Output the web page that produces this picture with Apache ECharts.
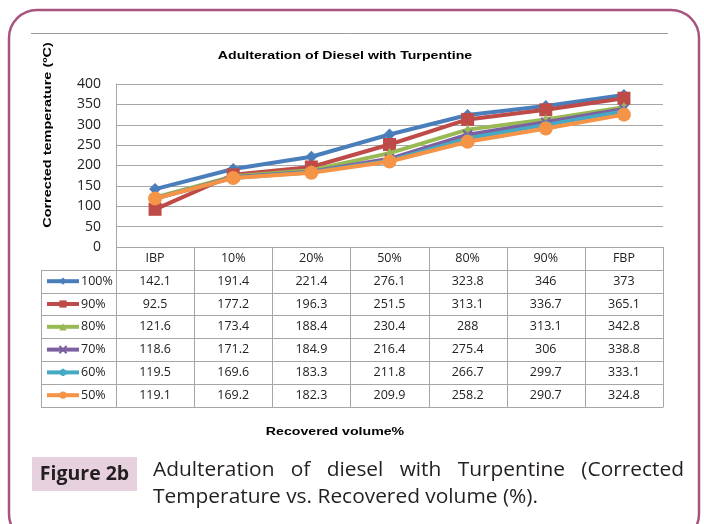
<!DOCTYPE html>
<html>
<head>
<meta charset="utf-8">
<script src="https://cdn.jsdelivr.net/npm/echarts@6/dist/echarts.min.js"></script>
<style>
html, body { margin: 0; padding: 0; background: #fff; }
#chart { width: 704px; height: 524px; }
</style>
</head>
<body>
<div id="chart"></div>
<script>
// data (the data table gives exact values)
var categories = ["IBP", "10%", "20%", "50%", "80%", "90%", "FBP"];
var seriesNames = ["100%", "90%", "80%", "70%", "60%", "50%"];
var s100 = [142.1, 191.4, 221.4, 276.1, 323.8, 346, 373];
var s90 = [92.5, 177.2, 196.3, 251.5, 313.1, 336.7, 365.1];
var s80 = [121.6, 173.4, 188.4, 230.4, 288, 313.1, 342.8];
var s70 = [118.6, 171.2, 184.9, 216.4, 275.4, 306, 338.8];
var s60 = [119.5, 169.6, 183.3, 211.8, 266.7, 299.7, 333.1];
var s50 = [119.1, 169.2, 182.3, 209.9, 258.2, 290.7, 324.8];
var seriesData = [s100, s90, s80, s70, s60, s50];
var yMin = 0, yMax = 400, yStep = 50;

var chartTitle = "Adulteration of Diesel with Turpentine";
var yTitle = "Corrected temperature (\u00BAC)";
var xTitle = "Recovered volume%";
var figLabel = "Figure 2b";
var captionLine1 = ["Adulteration", "of", "diesel", "with", "Turpentine", "(Corrected"];
var captionLine2 = "Temperature vs. Recovered volume (%).";

var colors = ["#4a7ebb", "#be4b48", "#98b954", "#7d60a0", "#46aac5", "#f59346"];
var symbols = [
  "diamond",
  "rect",
  "triangle",
  "path://M0,0L10,10M10,0L0,10",
  "path://M5,0L5,10M0,5L10,5M1.5,1.5L8.5,8.5M8.5,1.5L1.5,8.5",
  "circle"
];
var symbolSizes = [12, 13, 11, 9, 9, 14];

var gridLeft = 116, gridRight = 41, gridTop = 84, gridBottomY = 247;
var rowH = 22.8;
var tableLeft = 41;
var lineGray = "#a6a6a6";
var tableFont = "12.5px 'Open Sans', sans-serif";
var boldFont = "bold 11.6px 'Liberation Sans', Arial, sans-serif";

var chartDom = document.getElementById("chart");
var myChart = echarts.init(chartDom);

var series = seriesNames.map(function (name, i) {
  var isPath = symbols[i].indexOf("path://") === 0;
  return {
    name: name,
    type: "line",
    data: seriesData[i],
    symbol: symbols[i],
    symbolSize: symbolSizes[i],
    z: 2 + i,
    lineStyle: { width: 4, color: colors[i] },
    itemStyle: isPath
      ? { color: colors[i], borderColor: colors[i], borderWidth: 2 }
      : { color: colors[i], borderWidth: 0 },
    emphasis: { disabled: true }
  };
});

// one legend per table row, so each key sits in its own row
var legends = seriesNames.map(function (name, i) {
  return {
    orient: "vertical",
    left: 45,
    top: gridBottomY + rowH * (i + 1.5) - 7,
    padding: 0,
    itemWidth: 32,
    itemHeight: 9,
    selectedMode: false,
    data: [name],
    lineStyle: { width: 4 },
    textStyle: {
      fontFamily: "Open Sans",
      fontSize: 12.5,
      lineHeight: 14,
      color: "#222",
      padding: [0, 0, 0, -3]
    }
  };
});

var option = {
  animation: false,
  color: colors,
  grid: {
    left: gridLeft,
    right: gridRight,
    top: gridTop,
    bottom: 524 - gridBottomY
  },
  xAxis: {
    type: "category",
    data: categories,
    boundaryGap: true,
    axisLine: { show: false },
    axisTick: { show: false },
    axisLabel: { show: false }
  },
  yAxis: {
    type: "value",
    min: yMin,
    max: yMax,
    interval: yStep,
    axisLine: { show: true, lineStyle: { color: lineGray, width: 1 } },
    axisTick: { show: false },
    axisLabel: {
      margin: 15,
      fontFamily: "Open Sans",
      fontSize: 14,
      color: "#222"
    },
    splitLine: { lineStyle: { color: lineGray, width: 1 } }
  },
  legend: legends,
  series: series
};

option && myChart.setOption(option);

// data table, border and caption drawn from the arrays and the axis positions
var centers = categories.map(function (c, i) {
  return myChart.convertToPixel({ xAxisIndex: 0 }, i);
});
var band = centers[1] - centers[0];
var tableRight = centers[centers.length - 1] + band / 2;
var tableBottom = gridBottomY + rowH * (seriesNames.length + 1);
var g = [];

function hLine(x1, x2, y, color) {
  g.push({ type: "line", shape: { x1: x1, y1: y, x2: x2, y2: y }, style: { stroke: color || lineGray, lineWidth: 1 }, silent: true });
}
function vLine(x, y1, y2) {
  g.push({ type: "line", shape: { x1: x, y1: y1, x2: x, y2: y2 }, style: { stroke: lineGray, lineWidth: 1 }, silent: true });
}
function txt(x, y, s, font, color, align, extra) {
  var el = {
    type: "text", x: x, y: y, silent: true,
    style: { text: s, font: font, fill: color || "#222", align: align || "center", verticalAlign: "middle" }
  };
  if (extra) {
    for (var k in extra) el[k] = extra[k];
  }
  g.push(el);
}

hLine(gridLeft, tableRight, gridBottomY + 0.5);
for (var r = 1; r <= seriesNames.length + 1; r++) {
  hLine(tableLeft, tableRight, Math.round(gridBottomY + r * rowH) + 0.5);
}
vLine(tableLeft + 0.5, Math.round(gridBottomY + rowH) + 0.5, Math.round(tableBottom) + 0.5);
vLine(gridLeft + 0.5, gridBottomY, Math.round(tableBottom) + 0.5);
for (var c = 0; c < categories.length; c++) {
  vLine(Math.round(centers[c] + band / 2) + 0.5, gridBottomY, Math.round(tableBottom) + 0.5);
  txt(centers[c], gridBottomY + rowH / 2, categories[c], tableFont);
  for (var s = 0; s < seriesData.length; s++) {
    txt(centers[c], gridBottomY + rowH * (s + 1.5), String(seriesData[s][c]), tableFont);
  }
}

// frame
g.push({
  type: "rect", silent: true,
  shape: { x: 9, y: 10, width: 690, height: 532, r: 28 },
  style: { fill: "none", stroke: "#a9547f", lineWidth: 2.5 }
});
hLine(31, 668, 33.5, "#9a9a9a");

// titles (the picture's bold text is stretched wide)
txt(345, 56, chartTitle, boldFont, "#000", "center", { scaleX: 1.22 });
txt(335, 432, xTitle, boldFont, "#000", "center", { scaleX: 1.22 });
txt(48, 135, yTitle, boldFont, "#000", "center", { rotation: Math.PI / 2, scaleX: 1.25 });

// caption
g.push({
  type: "rect", silent: true,
  shape: { x: 32, y: 457, width: 105, height: 34 },
  style: { fill: "#e7d1df" }
});
txt(84.5, 474, figLabel, "bold 19.5px 'Open Sans', sans-serif", "#231f20");

var capFont = "20px 'Open Sans', sans-serif";
var ctx = document.createElement("canvas").getContext("2d");
ctx.font = capFont;
var capLeft = 153, capRight = 684, line2Right = 538;
var sx = (line2Right - capLeft) / ctx.measureText(captionLine2).width;
var wordsW = 0;
captionLine1.forEach(function (w) { wordsW += ctx.measureText(w).width * sx; });
var gap = (capRight - capLeft - wordsW) / (captionLine1.length - 1);
var cx = capLeft;
captionLine1.forEach(function (w) {
  txt(cx, 470, w, capFont, "#231f20", "left", { scaleX: sx });
  cx += ctx.measureText(w).width * sx + gap;
});
txt(capLeft, 497, captionLine2, capFont, "#231f20", "left", { scaleX: sx });

myChart.setOption({ graphic: g });
</script>
</body>
</html>
